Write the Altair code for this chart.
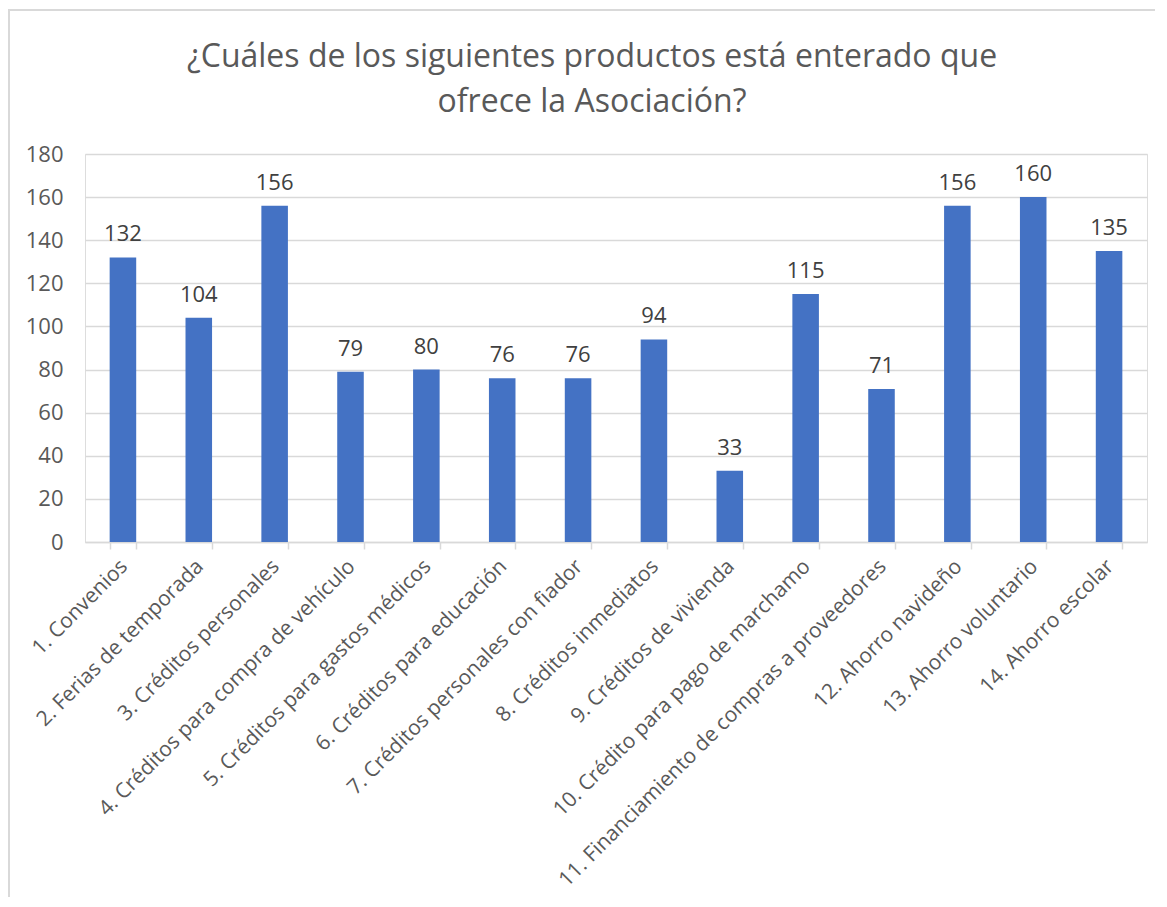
import altair as alt
import pandas as pd

categorias = [
    "1. Convenios",
    "2. Ferias de temporada",
    "3. Créditos personales",
    "4. Créditos para compra de vehículo",
    "5. Créditos para gastos médicos",
    "6. Créditos para educación",
    "7. Créditos personales con fiador",
    "8. Créditos inmediatos",
    "9. Créditos de vivienda",
    "10. Crédito para pago de marchamo",
    "11. Financiamiento de compras a proveedores",
    "12. Ahorro navideño",
    "13. Ahorro voluntario",
    "14. Ahorro escolar",
]
valores = [132, 104, 156, 79, 80, 76, 76, 94, 33, 115, 71, 156, 160, 135]
y_ticks = [0, 20, 40, 60, 80, 100, 120, 140, 160, 180]
titulo = ["¿Cuáles de los siguientes productos está enterado que", "ofrece la Asociación?"]

df = pd.DataFrame({"producto": categorias, "valor": valores})

FONT = "Open Sans"
W, H = 1062, 388

x_enc = alt.X(
    "producto:N",
    sort=categorias,
    title=None,
    scale=alt.Scale(paddingInner=0.65, paddingOuter=0.325),
    axis=alt.Axis(
        labelAngle=-45,
        labelAlign="right",
        labelBaseline="middle",
        labelFont=FONT,
        labelFontSize=21,
        labelColor="#595959",
        labelPadding=14,
        labelOffset=1,
        labelLimit=700,
        tickBand="extent",
        tickSize=7,
        tickColor="#d9d9d9",
        tickWidth=1.5,
        domainColor="#d9d9d9",
        domainWidth=1.5,
        grid=False,
    ),
)
y_enc = alt.Y(
    "valor:Q",
    title=None,
    scale=alt.Scale(domain=[0, 180], nice=False),
    axis=alt.Axis(
        values=y_ticks,
        labelFont=FONT,
        labelFontSize=22,
        labelColor="#595959",
        labelPadding=22,
        ticks=False,
        domain=False,
        gridColor="#d9d9d9",
        gridWidth=1.5,
    ),
)

bars = alt.Chart(df).mark_bar(color="#4472C4").encode(x=x_enc, y=y_enc)
labels = alt.Chart(df).mark_text(
    baseline="bottom", dy=-11, font=FONT, fontSize=22, color="#404040"
).encode(x=alt.X("producto:N", sort=categorias), y="valor:Q", text="valor:Q")

border = alt.Chart(df).mark_rect(
    fill=None, stroke="#d9d9d9", strokeWidth=1.5, clip=False
).encode(
    x=alt.value(-76),
    x2=alt.value(W + 40),
    y=alt.value(-144),
    y2=alt.value(H + 400),
)

chart = (
    alt.layer(border, bars, labels)
    .properties(
        width=W,
        height=H,
        autosize=alt.AutoSizeParams(type="none"),
        padding={"left": 77, "top": 146, "right": 8, "bottom": 355},
        title=alt.TitleParams(
            text=titulo,
            font=FONT,
            fontSize=32,
            fontWeight="normal",
            color="#595959",
            anchor="middle",
            frame="group",
            dx=-24,
            dy=110,
            lineHeight=45,
            offset=0,
        ),
    )
    .configure_view(stroke=None)
    .configure(background="white")
)

chart.save("out.html", embed_options={"renderer": "svg", "actions": False})
